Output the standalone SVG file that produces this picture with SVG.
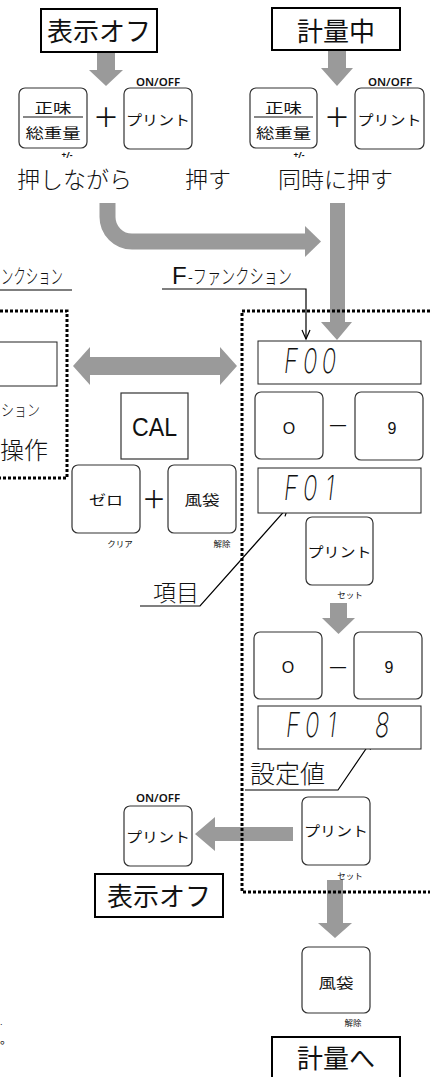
<svg xmlns="http://www.w3.org/2000/svg" width="430" height="1077" viewBox="0 0 430 1077">
<style>
.key{fill:#fff;stroke:#333;stroke-width:1.2}
.sq{fill:#fff;stroke:#333;stroke-width:1.2}
.disp{fill:#fff;stroke:#222;stroke-width:1}
.state{fill:#fff;stroke:#000;stroke-width:2}
.dots{fill:none;stroke:#000;stroke-width:3;stroke-dasharray:3 2}
.ga{fill:#9a9a9a}
.ln{fill:none;stroke:#000;stroke-width:1.2}
.jp{font-family:"Noto Sans CJK JP","Noto Sans",sans-serif;fill:#111}
.big{font-size:26px;text-anchor:middle}
.kt{font-size:14px;text-anchor:middle}
.sm{font-family:"Noto Sans","Noto Sans CJK JP",sans-serif;font-size:11.5px;font-weight:600;text-anchor:middle;fill:#111}
.tiny{font-family:"Noto Sans CJK JP",sans-serif;font-size:8.5px;text-anchor:middle;fill:#111}
.lbl{font-size:23px;font-weight:300}
.seg{font-family:Inter,Lato,"DejaVu Sans",sans-serif;font-style:italic;font-weight:200;font-size:34px;fill:#111}
.dig{font-family:"Liberation Sans",sans-serif;font-size:16px;text-anchor:middle;fill:#111}
</style>
<defs>
<marker id="open" markerUnits="userSpaceOnUse" markerWidth="12" markerHeight="12" refX="10" refY="5" orient="auto">
<path d="M1,1 L10,5 L1,9" fill="none" stroke="#000" stroke-width="1.2"/>
</marker>
</defs>

<g id="connectors">
<polygon class="ga" points="97,52 115,52 115,70 123,70 106,86 89,70 97,70"/>
<polygon class="ga" points="328,50 346,50 346,68 353,68 337,86 321,68 328,68"/>
<path d="M107.5,203 V217 A24.5,24.5 0 0 0 132,241.5 H306" fill="none" stroke="#9a9a9a" stroke-width="16"/>
<polygon class="ga" points="305,226 321,241.5 305,257"/>
<polygon class="ga" points="330,203 345,203 345,322 352,322 337,340 321,322 330,322"/>
<polygon class="ga" points="73,366 90,347 90,357 220,357 220,347 237,366 220,385 220,375 90,375 90,385"/>
<polygon class="ga" points="330,603 347,603 347,618 355,618 338.5,634 322,618 330,618"/>
<polygon class="ga" points="293,827 293,841 215,841 215,851 195,834 215,817 215,827"/>
<polygon class="ga" points="327,880 343,880 343,923 352,923 335,938 318,923 327,923"/>
<polyline class="ln" points="162,289 306,289 306,339" marker-end="url(#open)"/>
<line class="ln" x1="0" y1="290" x2="72" y2="290"/>
<polyline class="ln" points="140,606 200,606 288,507" marker-end="url(#open)"/>
<polyline class="ln" points="245,790 338,790 372,740" marker-end="url(#open)"/>
</g>

<g id="frame-left"><path class="dots" d="M-10,311 H67 V478 H-10"/></g>
<g id="frame-right"><path class="dots" d="M440,311 H242 V892 H440"/></g>

<g id="state-off-top">
<rect class="state" x="41" y="9" width="116" height="43"/>
<text class="jp big" x="99" y="41">表示オフ</text>
</g>
<g id="state-weighing">
<rect class="state" x="272" y="8" width="128" height="42"/>
<text class="jp big" x="336" y="41">計量中</text>
</g>

<g id="key-net-1">
<rect class="key" x="19" y="88" width="68" height="60" rx="6"/>
<text class="jp kt" x="53" y="113" textLength="37" lengthAdjust="spacingAndGlyphs">正味</text>
<line x1="23" y1="117" x2="83" y2="117" stroke="#111" stroke-width="1.2"/>
<text class="jp kt" x="53" y="138" textLength="55" lengthAdjust="spacingAndGlyphs">総重量</text>
<text class="sm" x="67" y="158" style="font-size:8.5px;font-weight:700">+/-</text>
</g>
<text class="jp" x="106" y="127" font-size="26" text-anchor="middle">＋</text>
<g id="key-print-1">
<text class="sm" x="158" y="86">ON/OFF</text>
<rect class="key" x="124" y="88" width="68" height="61" rx="6"/>
<text class="jp kt" x="158" y="125" textLength="64" lengthAdjust="spacingAndGlyphs">プリント</text>
</g>
<text class="jp lbl" x="17" y="188">押しながら</text>
<text class="jp lbl" x="185" y="188">押す</text>

<g id="key-net-2">
<rect class="key" x="250" y="88" width="67" height="60" rx="6"/>
<text class="jp kt" x="283.5" y="113" textLength="37" lengthAdjust="spacingAndGlyphs">正味</text>
<line x1="254" y1="117" x2="313" y2="117" stroke="#111" stroke-width="1.2"/>
<text class="jp kt" x="283.5" y="138" textLength="55" lengthAdjust="spacingAndGlyphs">総重量</text>
<text class="sm" x="299" y="158" style="font-size:8.5px;font-weight:700">+/-</text>
</g>
<text class="jp" x="337" y="127" font-size="26" text-anchor="middle">＋</text>
<g id="key-print-2">
<text class="sm" x="390" y="86">ON/OFF</text>
<rect class="key" x="355" y="88" width="69" height="61" rx="6"/>
<text class="jp kt" x="389.5" y="125" textLength="64" lengthAdjust="spacingAndGlyphs">プリント</text>
</g>
<text class="jp lbl" x="278" y="188">同時に押す</text>

<g id="label-ffunc-left">
<text class="jp" x="1" y="284" font-size="20" font-weight="300" textLength="62" lengthAdjust="spacingAndGlyphs">ンクション</text>
</g>
<g id="label-ffunc">
<text x="172" y="284"><tspan font-family="Liberation Sans,sans-serif" font-size="24" fill="#111">F</tspan><tspan class="jp" x="188" font-size="20" font-weight="300" textLength="104" lengthAdjust="spacingAndGlyphs">-ファンクション</tspan></text>
</g>

<g id="left-inner">
<rect class="disp" x="-10" y="342" width="67" height="44"/>
<text class="jp" x="1" y="416" font-size="16" font-weight="300" textLength="39" lengthAdjust="spacingAndGlyphs">ション</text>
<text class="jp" x="0" y="459" font-size="24" font-weight="300">操作</text>
</g>

<g id="key-cal">
<rect class="sq" x="121" y="393" width="67" height="66"/>
<text x="154.5" y="436" font-family="Liberation Sans,sans-serif" font-size="26" text-anchor="middle" textLength="45" lengthAdjust="spacingAndGlyphs" fill="#111">CAL</text>
</g>
<g id="key-zero">
<rect class="key" x="72" y="465" width="68" height="68" rx="6"/>
<text class="jp kt" x="106" y="505" textLength="34" lengthAdjust="spacingAndGlyphs">ゼロ</text>
<text class="tiny" x="120" y="547">クリア</text>
</g>
<text class="jp" x="154" y="508" font-size="24" text-anchor="middle">＋</text>
<g id="key-tare-1">
<rect class="key" x="168" y="465" width="68" height="68" rx="6"/>
<text class="jp kt" x="202" y="505" textLength="35" lengthAdjust="spacingAndGlyphs">風袋</text>
<text class="tiny" x="222" y="547">解除</text>
</g>

<g id="disp-f00">
<rect class="disp" x="258" y="341" width="163" height="43"/>
<text class="seg" transform="matrix(0.7 0 0 1 284 373)" x="0 27 54" y="0">F00</text>
</g>
<g id="keys-09-1">
<rect class="key" x="255" y="392" width="68" height="67" rx="6"/>
<text class="dig" x="289" y="434">O</text>
<text class="dig" x="338" y="430" font-size="20">—</text>
<rect class="key" x="355" y="392" width="68" height="68" rx="6"/>
<text class="dig" x="392" y="434">9</text>
</g>
<g id="disp-f01">
<rect class="disp" x="258" y="468" width="163" height="45"/>
<text class="seg" transform="matrix(0.7 0 0 1 284 500)" x="0 27 59" y="0">F01</text>
</g>
<g id="key-set-1">
<rect class="key" x="306" y="517" width="67" height="68" rx="6"/>
<text class="jp kt" x="339.5" y="557" textLength="64" lengthAdjust="spacingAndGlyphs">プリント</text>
<text class="tiny" x="350" y="598">セット</text>
</g>
<text class="jp lbl" x="153" y="601">項目</text>

<g id="keys-09-2">
<rect class="key" x="254" y="632" width="68" height="67" rx="6"/>
<text class="dig" x="288" y="673">O</text>
<text class="dig" x="338" y="672" font-size="20">—</text>
<rect class="key" x="354" y="632" width="68" height="67" rx="6"/>
<text class="dig" x="389" y="673">9</text>
</g>
<g id="disp-f01-8">
<rect class="disp" x="258" y="706" width="163" height="43"/>
<text class="seg" transform="matrix(0.7 0 0 1 286 737)" x="0 27 59 80 127" y="0">F01 8</text>
</g>
<text class="jp" x="250" y="783" font-size="25" font-weight="300">設定値</text>

<g id="key-set-2">
<rect class="key" x="302" y="797" width="68" height="68" rx="6"/>
<text class="jp kt" x="336" y="836" textLength="64" lengthAdjust="spacingAndGlyphs">プリント</text>
<text class="tiny" x="350" y="879">セット</text>
</g>
<g id="key-print-off">
<text class="sm" x="158" y="802">ON/OFF</text>
<rect class="key" x="124" y="806" width="68" height="60" rx="6"/>
<text class="jp kt" x="158" y="842" textLength="64" lengthAdjust="spacingAndGlyphs">プリント</text>
</g>
<g id="state-off-bottom">
<rect class="state" x="95" y="874" width="128" height="43"/>
<text class="jp big" x="159" y="906">表示オフ</text>
</g>
<g id="key-tare-2">
<rect class="key" x="302" y="947" width="68" height="66" rx="6"/>
<text class="jp kt" x="336" y="988" textLength="35" lengthAdjust="spacingAndGlyphs">風袋</text>
<text class="tiny" x="353" y="1026">解除</text>
</g>
<g id="state-to-weighing">
<rect class="state" x="272" y="1037" width="128" height="43"/>
<text class="jp big" x="336" y="1068">計量へ</text>
</g>
<text x="0" y="1025" font-family="Liberation Sans,sans-serif" font-size="9" fill="#111">.</text>
<text class="jp" x="0" y="1044" font-size="12">。</text>
</svg>
